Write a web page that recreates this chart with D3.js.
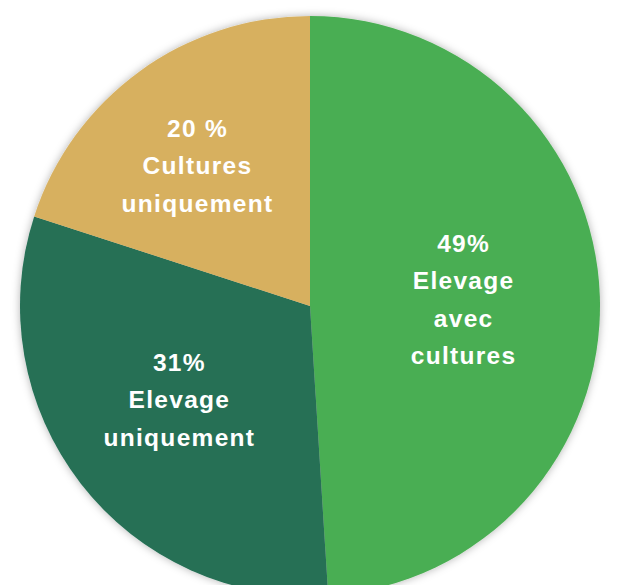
<!DOCTYPE html>
<html>
<head lang="fr">
  <meta charset="UTF-8">
  <title>Exploitations</title>
</head>
<style>
  body { margin: 0; background: #fff; }
  #chart text {
    fill: #fff;
    font-family: "Liberation Sans", Arial, sans-serif;
    font-weight: bold;
    font-size: 24.5px;
    letter-spacing: 1.3px;
  }
</style>
<body>

<svg id="chart"></svg>

<script src="https://cdn.jsdelivr.net/npm/d3@7"></script>
<script>
  var categories = [ 'Elevage avec cultures', 'Elevage uniquement', 'Cultures uniquement' ];
  var values = [ 49, 31, 20 ];
  var labels = [
    [ '49%', 'Elevage', 'avec', 'cultures' ],
    [ '31%', 'Elevage', 'uniquement' ],
    [ '20 %', 'Cultures', 'uniquement' ]
  ];
  var colors = [ '#4aae52', '#256f55', '#d7b05f' ];

  var width = 618, height = 585;
  var cx = 310, cy = 306, radius = 290;
  // label placement: radius factor on the slice, plus a small vertical nudge
  var labelFactor = [ 0.53, 0.57, 0.66 ];
  var labelNudge = [ -2, -8, 14 ];
  var lineHeight = 37.5;

  var svg = d3.select('#chart')
      .attr('width', width)
      .attr('height', height);

  var defs = svg.append('defs');
  var shadow = defs.append('filter')
      .attr('id', 'shadow')
      .attr('x', '-10%').attr('y', '-10%')
      .attr('width', '120%').attr('height', '120%');
  shadow.append('feDropShadow')
      .attr('dx', 0).attr('dy', 0)
      .attr('stdDeviation', 4)
      .attr('flood-color', '#000')
      .attr('flood-opacity', 0.3);

  var pie = d3.pie().sort(null).value(function(d) { return d; });
  var arcs = pie(values);
  var arc = d3.arc().innerRadius(0).outerRadius(radius);

  var g = svg.append('g')
      .attr('transform', 'translate(' + cx + ',' + cy + ')');

  g.append('g')
      .attr('filter', 'url(#shadow)')
    .selectAll('path')
    .data(arcs)
    .enter()
      .append('path')
      .attr('d', arc)
      .attr('fill', function(d, i) { return colors[i]; });

  var label = g.selectAll('text')
      .data(arcs)
      .enter()
        .append('text')
        .attr('text-anchor', 'middle')
        .attr('transform', function(d, i) {
          var r = radius * labelFactor[i];
          var a = d3.arc().innerRadius(r).outerRadius(r);
          var c = a.centroid(d);
          var lines = labels[i].length;
          var y0 = c[1] - (lines - 1) * lineHeight / 2 + 9 + labelNudge[i];
          return 'translate(' + c[0] + ',' + y0 + ')';
        });

  label.each(function(d, i) {
    d3.select(this).selectAll('tspan')
      .data(labels[i])
      .enter()
        .append('tspan')
        .attr('x', 0)
        .attr('y', function(t, j) { return j * lineHeight; })
        .text(function(t) { return t; });
  });
</script>
</body>
</html>
